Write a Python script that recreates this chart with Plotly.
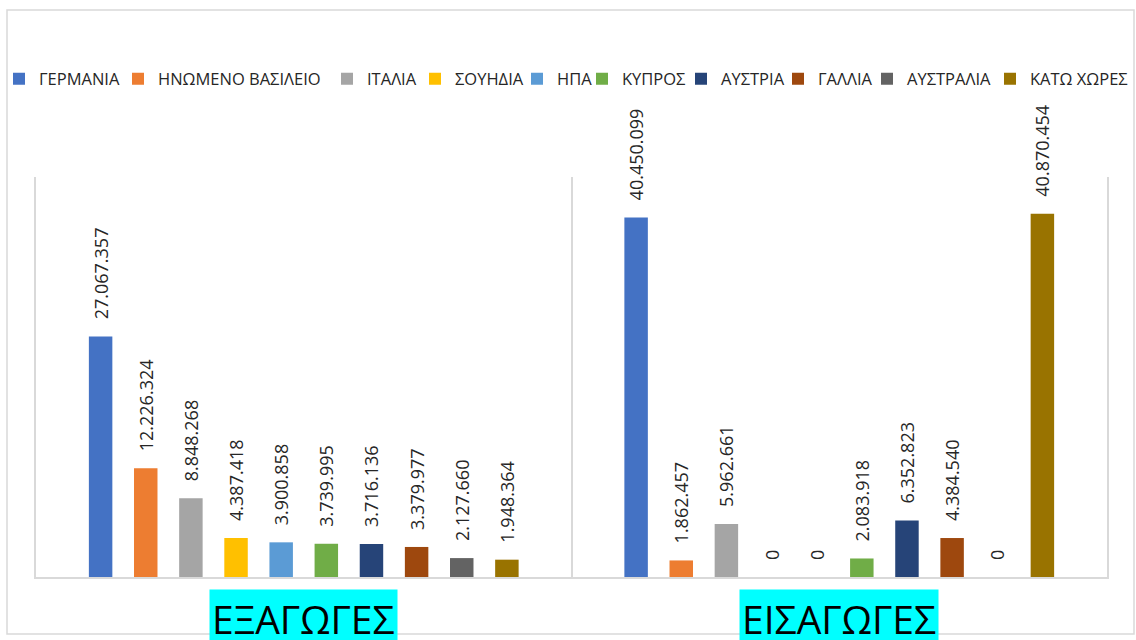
import plotly.graph_objects as go

categories = ["ΕΞΑΓΩΓΕΣ", "ΕΙΣΑΓΩΓΕΣ"]
countries = ["ΓΕΡΜΑΝΙΑ", "ΗΝΩΜΕΝΟ ΒΑΣΙΛΕΙΟ", "ΙΤΑΛΙΑ", "ΣΟΥΗΔΙΑ", "ΗΠΑ",
             "ΚΥΠΡΟΣ", "ΑΥΣΤΡΙΑ", "ΓΑΛΛΙΑ", "ΑΥΣΤΡΑΛΙΑ", "ΚΑΤΩ ΧΩΡΕΣ"]
exports = [27067357, 12226324, 8848268, 4387418, 3900858,
           3739995, 3716136, 3379977, 2127660, 1948364]
imports = [40450099, 1862457, 5962661, 0, 0,
           2083918, 6352823, 4384540, 0, 40870454]
colors = ["#4472C4", "#ED7D31", "#A5A5A5", "#FFC000", "#5B9BD5",
          "#70AD47", "#264478", "#9E480E", "#636363", "#997300"]

# legend entry left positions (px), from reference, nudged for spacing
legend_px = [18, 137, 346, 434, 536, 601, 700, 797, 886, 1009]

W, H = 1136, 640
ML, MR, MT, MB = 36, 29, 177, 63
PW = W - ML - MR
PH = H - MT - MB

FONT = "Open Sans"

fig = go.Figure()
for i, c in enumerate(countries):
    lname = "legend" if i == 0 else f"legend{i+1}"
    fig.add_trace(go.Bar(
        name=c,
        x=categories,
        y=[exports[i], imports[i]],
        marker=dict(color=colors[i], line=dict(width=0)),
        texttemplate="\u00a0\u00a0\u00a0%{y:,.0f}",
        textposition="outside",
        textangle=-90,
        textfont=dict(family=FONT, size=18, color="#262626"),
        cliponaxis=False,
        constraintext="none",
        legend=lname,
        hoverinfo="name+y",
    ))

legends = {}
for i, px in enumerate(legend_px):
    lname = "legend" if i == 0 else f"legend{i+1}"
    legends[lname] = dict(
        x=(px - 19 - ML) / PW, xanchor="left",
        y=(H - MB - 79) / PH, yanchor="middle",
        orientation="h",
        bgcolor="rgba(0,0,0,0)",
        font=dict(family=FONT, size=16.5, color="#262626"),
        itemwidth=30,
        tracegroupgap=0,
    )

annotations = []
for cat in categories:
    annotations.append(dict(
        x=cat, xref="x", y=-12 / PH,
        yref="paper", yanchor="top", xanchor="center",
        text=cat, showarrow=False,
        font=dict(family=FONT, size=39, color="#000000"),
        bgcolor="#00FFFF", borderpad=2,
    ))

fig.update_layout(
    width=W, height=H,
    margin=dict(l=ML, r=MR, t=MT, b=MB, pad=0, autoexpand=False),
    paper_bgcolor="white", plot_bgcolor="white",
    barmode="group", bargap=0.157, bargroupgap=0.48,
    separators=",.",
    showlegend=True,
    annotations=annotations,
    shapes=[dict(type="rect", xref="paper", yref="paper",
                 x0=(7 - ML) / PW, x1=(1134 - ML) / PW,
                 y0=(H - MB - 634) / PH, y1=(H - MB - 10) / PH,
                 line=dict(color="#D9D9D9", width=1.5), layer="below")],
    xaxis=dict(type="category", tickson="boundaries", showgrid=True,
               gridcolor="#D9D9D9", gridwidth=1.5, showticklabels=False,
               ticks="", showline=True, linecolor="#D9D9D9", linewidth=2,
               zeroline=False, fixedrange=True),
    yaxis=dict(range=[0, 45000000], showgrid=False, showticklabels=False,
               zeroline=False, showline=True, mirror=True,
               linecolor="#D9D9D9", linewidth=1.5, ticks="", fixedrange=True),
    **legends,
)

fig.write_html(
    "out.html",
    config={"displayModeBar": False},
    post_script="document.body.style.margin='0px';document.body.style.overflow='hidden';",
)
